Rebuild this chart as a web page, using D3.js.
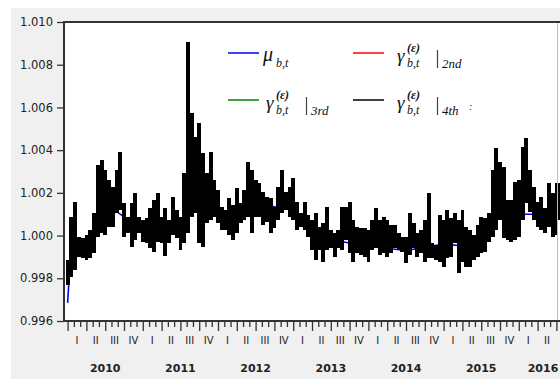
<!DOCTYPE html>
<html>
<head>
<meta charset="UTF-8">
<script src="https://cdnjs.cloudflare.com/ajax/libs/d3/7.8.5/d3.min.js"></script>
<style>
  body { margin: 0; background: #fff; }
  svg { display: block; }
  .axis text { font-family: 'DejaVu Sans', Verdana, sans-serif; font-size: 11.5px; fill: #222; }
  .axis line { stroke: #333; stroke-width: 1.3; }
  .axis path { display: none; }
  .lab { font-family: 'DejaVu Sans', Verdana, sans-serif; fill: #222; }
  .math { font-family: 'Liberation Serif', 'DejaVu Serif', serif; font-style: italic; fill: #111; }
</style>
</head>
<body>
<svg id="chart" width="560" height="379"></svg>
<script>
  // sample grid (decimal years), one bar per step
  const startYear = 2010, stepYear = 0.05;

  // upper envelope of the 4th-order series
  const hiVals = [
    0.99886, 1.00087, 1.00157, 0.99993, 0.99989, 1.00003, 1.00026, 1.00106, 1.00330, 1.00354,
    1.00307, 1.00260, 1.00227, 1.00307, 1.00391, 1.00153, 1.00087, 1.00153, 1.00199, 1.00087,
    1.00073, 1.00082, 1.00129, 1.00167, 1.00199, 1.00087, 1.00129, 1.00073, 1.00181, 1.00120,
    1.00087, 1.00293, 1.00906, 1.00574, 1.00461, 1.00527, 1.00387, 1.00293, 1.00391, 1.00260,
    1.00213, 1.00134, 1.00120, 1.00176, 1.00143, 1.00223, 1.00153, 1.00213, 1.00344, 1.00307,
    1.00260, 1.00246, 1.00204, 1.00181, 1.00176, 1.00134, 1.00227, 1.00307, 1.00204, 1.00227,
    1.00270, 1.00157, 1.00106, 1.00157, 1.00096, 1.00073, 1.00106, 1.00040, 1.00059, 1.00134,
    1.00026, 1.00012, 1.00026, 1.00134, 1.00134, 1.00157, 1.00073, 1.00040, 1.00036, 1.00036,
    1.00026, 1.00073, 1.00129, 1.00073, 1.00087, 1.00073, 1.00050, 1.00050, 1.00012, 0.99993,
    0.99993, 1.00106, 1.00059, 1.00012, 1.00026, 1.00073, 1.00199, 0.99965, 0.99956, 1.00096,
    1.00073, 1.00120, 1.00082, 1.00106, 1.00073, 1.00120, 1.00040, 1.00026, 1.00003, 1.00050,
    1.00087, 1.00082, 1.00106, 1.00307, 1.00410, 1.00344, 1.00321, 1.00167, 1.00167, 1.00251,
    1.00260, 1.00415, 1.00457, 1.00307, 1.00227, 1.00157, 1.00181, 1.00129, 1.00246, 1.00199,
    1.00246, 1.00246
  ];
  // lower envelope
  const loVals = [
    0.99769, 0.99806, 0.99839, 0.99900, 0.99895, 0.99886, 0.99895, 0.99919, 0.99993, 1.00012,
    1.00003, 1.00040, 1.00040, 1.00106, 1.00120, 0.99993, 1.00012, 0.99947, 0.99979, 1.00012,
    0.99970, 0.99965, 0.99942, 0.99923, 0.99970, 0.99965, 0.99905, 0.99965, 1.00003, 0.99989,
    0.99933, 0.99965, 1.00012, 1.00087, 1.00106, 0.99965, 0.99947, 1.00059, 1.00073, 1.00087,
    1.00059, 1.00026, 1.00026, 1.00003, 0.99979, 1.00012, 1.00059, 1.00073, 1.00087, 1.00012,
    1.00087, 1.00087, 1.00050, 1.00064, 1.00012, 1.00036, 1.00073, 1.00106, 1.00120, 1.00087,
    1.00073, 1.00026, 1.00040, 1.00026, 0.99993, 0.99933, 0.99886, 0.99933, 0.99876, 0.99933,
    0.99942, 0.99900, 0.99942, 0.99933, 0.99979, 0.99919, 0.99876, 0.99919, 0.99909, 0.99900,
    0.99876, 0.99933, 0.99942, 0.99909, 0.99919, 0.99900, 0.99919, 0.99942, 0.99933, 0.99923,
    0.99872, 0.99909, 0.99942, 0.99900, 0.99919, 0.99876, 0.99895, 0.99895, 0.99886, 0.99876,
    0.99853, 0.99895, 0.99900, 0.99965, 0.99825, 0.99876, 0.99853, 0.99853, 0.99886, 0.99900,
    0.99919, 0.99923, 0.99970, 0.99993, 1.00026, 1.00073, 0.99989, 0.99979, 0.99970, 0.99979,
    0.99993, 1.00073, 1.00153, 1.00110, 1.00073, 1.00040, 1.00026, 1.00012, 1.00040, 0.99993,
    1.00003, 1.00073
  ];

  // mu_{b,t}: sparse readings (mostly hidden under the black series)
  const muDates = [2010.00, 2010.02, 2010.10, 2010.35, 2010.45, 2010.62, 2010.90, 2011.30, 2011.50, 2011.60,
                   2011.90, 2012.20, 2012.50, 2013.00, 2013.50, 2014.00, 2014.50, 2015.00, 2015.30, 2015.45,
                   2015.65, 2016.00, 2016.30, 2016.55];
  const muVals = [0.99685, 0.99800, 0.99950, 1.00000, 1.00150, 1.00120, 1.00050, 1.00010, 1.00020, 1.00100,
                  1.00150, 1.00040, 1.00150, 1.00120, 0.99980, 0.99950, 0.99930, 0.99960, 0.99950, 0.99970,
                  1.00100, 1.00100, 1.00100, 1.00150];

  const yTicks = [0.996, 0.998, 1.000, 1.002, 1.004, 1.006, 1.008, 1.010];
  const quarterNames = ['I', 'II', 'III', 'IV'];
  const years = [2010, 2011, 2012, 2013, 2014, 2015, 2016];

  const legendItems = [
    { key: 'mu', color: '#0000ff' },
    { key: '2nd', color: '#ff0000' },
    { key: '3rd', color: '#008000' },
    { key: '4th', color: '#000000' }
  ];

  const dates = hiVals.map((d, i) => startYear + i * stepYear);

  const svg = d3.select('#chart');
  const plot = { left: 64, top: 22, right: 562, bottom: 321 };

  const x = d3.scaleLinear().domain([2010, 2016]).range([67.6, 518.8]);
  const y = d3.scaleLinear().domain([0.996, 1.010]).range([plot.bottom, plot.top]);

  // grey panel
  svg.append('rect')
    .attr('x', 11).attr('y', 8)
    .attr('width', 549).attr('height', 371)
    .attr('fill', '#f0f0f0');

  svg.append('rect')
    .attr('x', plot.left).attr('y', plot.top)
    .attr('width', plot.right - plot.left).attr('height', plot.bottom - plot.top)
    .attr('fill', '#fff');

  svg.append('clipPath').attr('id', 'clip')
    .append('rect')
    .attr('x', plot.left).attr('y', plot.top)
    .attr('width', plot.right - plot.left).attr('height', plot.bottom - plot.top);

  const g = svg.append('g').attr('clip-path', 'url(#clip)');

  // mu line underneath
  const muLine = d3.line()
    .x((d, i) => x(muDates[i]))
    .y(d => y(d));
  g.append('path')
    .datum(muVals)
    .attr('d', muLine)
    .attr('fill', 'none')
    .attr('stroke', '#0000ff')
    .attr('stroke-width', 1.6);

  // black series as high-low bars
  const bw = x(2010 + stepYear) - x(2010);
  g.selectAll('rect.bar')
    .data(dates)
    .join('rect')
    .attr('class', 'bar')
    .attr('x', d => x(d) - bw / 2)
    .attr('width', bw + 0.2)
    .attr('y', (d, i) => y(hiVals[i]))
    .attr('height', (d, i) => y(loVals[i]) - y(hiVals[i]))
    .attr('fill', '#000')
    .attr('shape-rendering', 'crispEdges');

  // faint right border line
  svg.append('line')
    .attr('x1', 557.5).attr('x2', 557.5)
    .attr('y1', plot.top).attr('y2', plot.bottom)
    .attr('stroke', '#bbb').attr('stroke-width', 1);

  // frame
  svg.append('path')
    .attr('d', `M${plot.right},${plot.top}H${plot.left}V${plot.bottom}H${plot.right}`)
    .attr('fill', 'none')
    .attr('stroke', '#333')
    .attr('stroke-width', 2);

  // y axis
  svg.append('g')
    .attr('class', 'axis')
    .attr('transform', `translate(${plot.left},0)`)
    .call(d3.axisLeft(y).tickValues(yTicks).tickSize(7).tickPadding(4).tickFormat(d3.format('.3f')));

  // x axis: month and quarter ticks
  const months = d3.range(0, 80).map(m => 2010 + m / 12).filter(t => x(t) < 560);
  svg.append('g')
    .attr('class', 'axis')
    .attr('transform', `translate(0,${plot.bottom})`)
    .call(d3.axisBottom(x).tickValues(months.filter((t, i) => i % 3 !== 0)).tickSize(6).tickFormat(''));
  svg.append('g')
    .attr('class', 'axis')
    .attr('transform', `translate(0,${plot.bottom})`)
    .call(d3.axisBottom(x).tickValues(months.filter((t, i) => i % 3 === 0)).tickSize(10).tickFormat(''));

  // quarter and year labels
  years.forEach(yr => {
    quarterNames.forEach((q, k) => {
      const qx = x(yr + k * 0.25 + 0.125);
      if (qx > 554) return;
      svg.append('text')
        .attr('class', 'lab')
        .attr('x', qx)
        .attr('y', 344)
        .attr('text-anchor', 'middle')
        .attr('font-size', 10)
        .text(q);
    });
    // the last year is centred on its visible part
    const yx = x(yr + 0.5) > 540 ? 543 : x(yr + 0.5);
    svg.append('text')
      .attr('class', 'lab')
      .attr('x', yx)
      .attr('y', 372)
      .attr('text-anchor', 'middle')
      .attr('font-size', 11)
      .attr('font-weight', 'bold')
      .text(yr);
  });

  // legend
  const slots = [
    { lx: 228, ly: 53, tx: 263 },
    { lx: 353, ly: 53, tx: 397 },
    { lx: 228, ly: 100, tx: 266 },
    { lx: 353, ly: 100, tx: 397 }
  ];
  legendItems.forEach((item, k) => {
    const s = slots[k];
    svg.append('line')
      .attr('x1', s.lx).attr('x2', s.lx + 31)
      .attr('y1', s.ly).attr('y2', s.ly)
      .attr('stroke', item.color).attr('stroke-width', 1.5);
    const by = s.ly + 8;
    if (item.key === 'mu') {
      svg.append('text').attr('class', 'math').attr('x', s.tx).attr('y', by)
        .attr('font-size', 20).text('μ');
      svg.append('text').attr('class', 'math').attr('x', s.tx + 13).attr('y', by + 6)
        .attr('font-size', 12).text('b,t');
    } else {
      svg.append('text').attr('class', 'math').attr('x', s.tx).attr('y', by + 1)
        .attr('font-size', 19).text('γ');
      svg.append('text').attr('class', 'math').attr('x', s.tx + 10).attr('y', by - 9)
        .attr('font-size', 12).attr('font-weight', 'bold').text('(ε)');
      svg.append('text').attr('class', 'math').attr('x', s.tx + 10).attr('y', by + 6)
        .attr('font-size', 12).text('b,t');
      svg.append('line')
        .attr('x1', s.tx + 40.5).attr('x2', s.tx + 40.5)
        .attr('y1', by - 11).attr('y2', by + 7)
        .attr('stroke', '#444').attr('stroke-width', 1.2);
      svg.append('text').attr('class', 'math').attr('x', s.tx + 45).attr('y', by + 7)
        .attr('font-size', 13).text(item.key);
      if (item.key === '4th') {
        svg.append('text').attr('class', 'math').attr('x', s.tx + 72).attr('y', by + 2)
          .attr('font-size', 10).attr('fill', '#c9a070').text(':');
      }
    }
  });
</script>
</body>
</html>
